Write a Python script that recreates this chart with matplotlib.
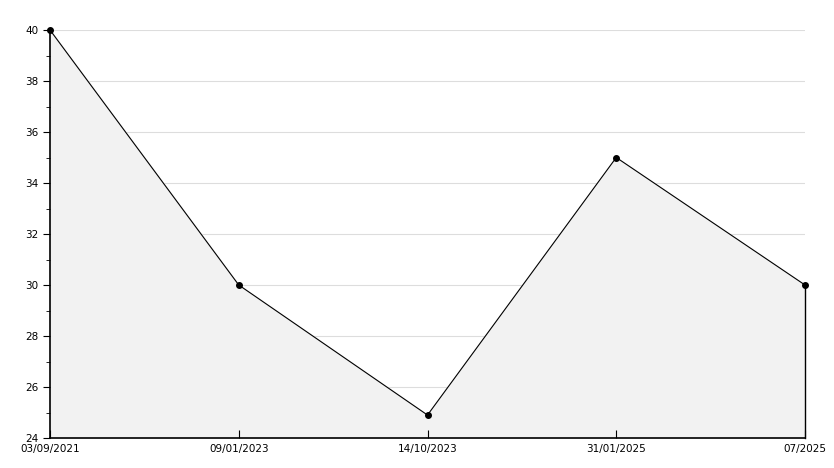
import numpy as np
import matplotlib.pyplot as plt
from matplotlib.ticker import MultipleLocator

dates = ['03/09/2021', '09/01/2023', '14/10/2023', '31/01/2025', '07/2025']
values = [40, 30, 24.9, 35, 30]

fig = plt.figure(figsize=(8.34, 4.68), dpi=100)
ax = fig.add_axes([50/834, 30/468, 755/834, 408/468])

x = np.arange(len(dates))
ax.set_xlim(0, len(dates) - 1)
ax.set_ylim(24, 40)

# horizontal grid lines, kept behind the filled area
for yv in np.arange(26, 41, 2):
    ax.axhline(yv, color='#dddddd', lw=0.8, zorder=0)

ax.fill_between(x, values, 24, color='#f2f2f2', zorder=0.5)
ax.plot(x, values, color='black', lw=0.8, marker='o', ms=4, zorder=3, clip_on=False)
ax.plot([x[-1], x[-1]], [24, values[-1]], color='black', lw=1.0, zorder=3, clip_on=False)

ax.set_xticks(x)
ax.set_xticklabels(dates)
ax.yaxis.set_major_locator(MultipleLocator(2))
ax.yaxis.set_minor_locator(MultipleLocator(1))

ax.spines['top'].set_visible(False)
ax.spines['right'].set_visible(False)
ax.spines['left'].set_linewidth(1.2)
ax.spines['bottom'].set_linewidth(1.2)

ax.tick_params(axis='x', direction='in', length=6, labelsize=7.5, pad=4)
ax.tick_params(axis='y', which='major', direction='out', length=5, labelsize=7.5)
ax.tick_params(axis='y', which='minor', direction='out', length=3)

fig.savefig('out.png', dpi=100)
